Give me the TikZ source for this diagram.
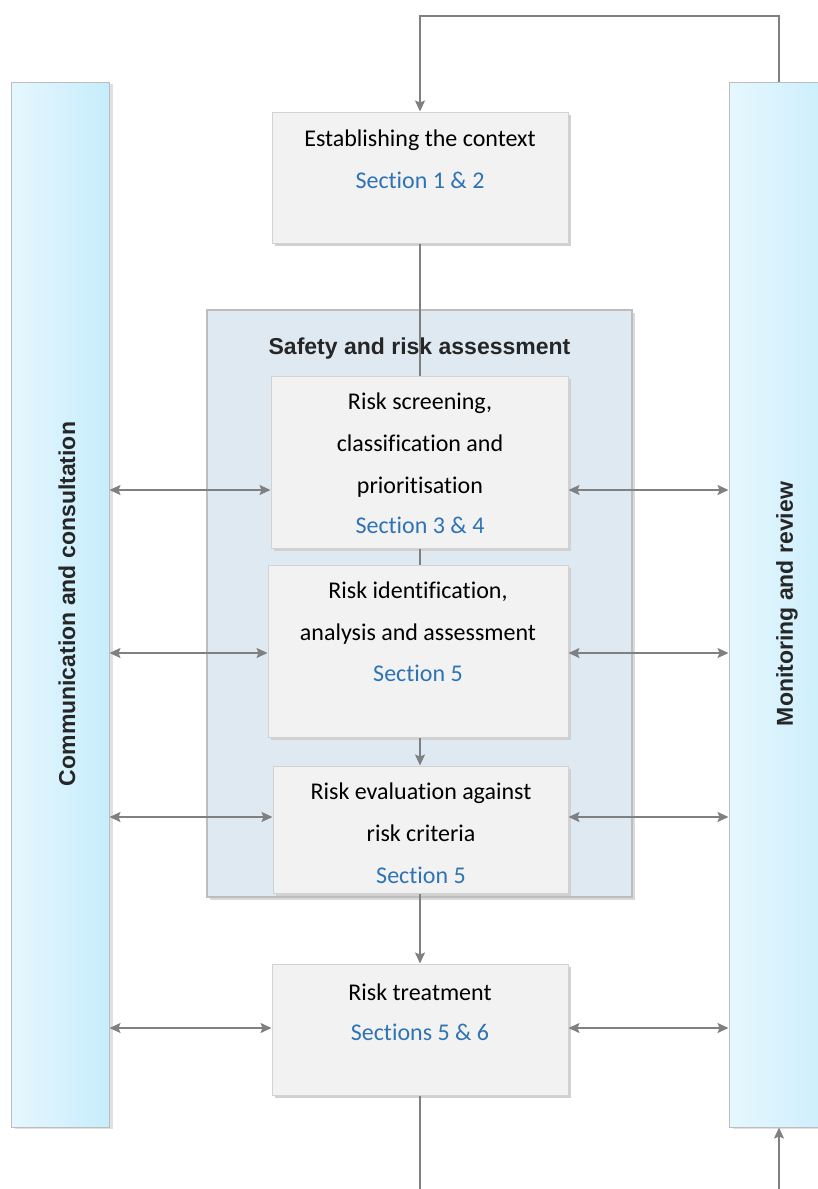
\documentclass[tikz,border=0pt]{standalone}
\usepackage{fontspec}
\setmainfont{Carlito}[Ligatures=NoCommon]
\newfontfamily\headfont{Liberation Sans}
\usetikzlibrary{arrows.meta,shadows,positioning}

\definecolor{boxfill}{HTML}{F2F2F2}
\definecolor{boxline}{HTML}{D2D2D2}
\definecolor{grpfill}{HTML}{DFE9F2}
\definecolor{grpline}{HTML}{BDBDBD}
\definecolor{barleft}{HTML}{E6F7FE}
\definecolor{barright}{HTML}{C6EDFC}
\definecolor{linegray}{HTML}{808080}
\definecolor{secblue}{HTML}{2E74B5}

\begin{document}
\begin{tikzpicture}[x=1pt,y=-1pt,
  box/.style={draw=boxline, fill=boxfill, line width=1pt, inner sep=0pt,
    drop shadow={shadow xshift=3pt, shadow yshift=-3pt, fill=black!18, opacity=1}},
  grp/.style={draw=grpline, fill=grpfill, line width=1.2pt, inner sep=0pt,
    drop shadow={shadow xshift=3pt, shadow yshift=-3pt, fill=black!15, opacity=1}},
  bar/.style={draw=grpline, left color=barleft, right color=barright, line width=1pt, inner sep=0pt,
    drop shadow={shadow xshift=4pt, shadow yshift=-2pt, fill=black!12, opacity=1}},
  txt/.style={anchor=base, align=center, font=\fontsize{24}{42}\selectfont, inner sep=0pt},
  sec/.style={txt, text=secblue},
  head/.style={font=\headfont\bfseries\fontsize{23}{27}\selectfont, inner sep=0pt, text=black!85},
  flow/.style={draw=linegray, line width=1.5pt},
  arr/.style={flow, -{Stealth[length=11pt, width=10pt, inset=2pt]}},
  dbl/.style={flow, {Stealth[length=11pt, width=10pt, inset=2pt]}-{Stealth[length=11pt, width=10pt, inset=2pt]}}]

  \useasboundingbox (0,0) rectangle (818,1189);

  % side bars
  \node[bar, minimum width=98pt, minimum height=1045pt] (com) at (60,604.5) {};
  \node[bar, minimum width=118pt, minimum height=1045pt] (mon) at (788,604.5) {};
  \node[head, rotate=90] (comtxt) at (67,604) {Communication and consultation};
  \node[head, rotate=90] (montxt) at (787,604) {Monitoring and review};

  % assessment group
  \node[grp, minimum width=425pt, minimum height=587pt] (grp) at (419.5,603.5) {};
  \node[head] (grptxt) at (419.5,349) {Safety and risk assessment};

  % boxes
  \node[box, minimum width=296pt, minimum height=131pt] (ctx) at (420,177.5) {};
  \node[box, minimum width=297pt, minimum height=172pt] (scr) at (419.5,462) {};
  \node[box, minimum width=300pt, minimum height=172pt] (idn) at (418,651) {};
  \node[box, minimum width=295pt, minimum height=127pt] (evl) at (420.5,829.5) {};
  \node[box, minimum width=296pt, minimum height=131pt] (trt) at (420,1029.5) {};

  % texts (base = last line)
  \node[txt] (ctxa) at (420,146) {Establishing the context};
  \node[sec] (ctxs) at (420,188) {Section 1 \& 2};

  \node[txt] (scra) at (420,493) {Risk screening,\\classification and\\prioritisation};
  \node[sec] (scrs) at (420,533) {Section 3 \& 4};

  \node[txt] (idna) at (418,640) {Risk identification,\\analysis and assessment};
  \node[sec] (idns) at (418,681) {Section 5};

  \node[txt] (evla) at (421,841) {Risk evaluation against\\risk criteria};
  \node[sec] (evls) at (421,883) {Section 5};

  \node[txt] (trta) at (420,1000) {Risk treatment};
  \node[sec] (trts) at (420,1040) {Sections 5 \& 6};

  % loop and main flow
  \coordinate (loopR) at (779,16);
  \coordinate (loopL) at (420,16);
  \coordinate (endL) at (420,1189);
  \coordinate (endR) at (779,1189);
  \draw[arr] (loopR |- mon.north) -- (loopR) -- (loopL) -- (ctx.north);
  \draw[flow] (ctx.south) -- (ctx.south |- scr.north);
  \draw[flow] (scr.south -| ctx.south) -- (idn.north -| ctx.south);
  \draw[arr] (idn.south -| ctx.south) -- (evl.north -| ctx.south);
  \draw[arr] (evl.south -| ctx.south) -- (trt.north);
  \draw[flow] (trt.south) -- (endL);
  \draw[arr] (endR) -- (endR |- mon.south);

  % two-way links to the bars
  \coordinate (r1) at (0,490);
  \coordinate (r2) at (0,653);
  \coordinate (r3) at (0,817);
  \coordinate (r4) at (0,1028);
  \draw[dbl] (com.east |- r1) -- (scr.west |- r1);
  \draw[dbl] (scr.east |- r1) -- (mon.west |- r1);
  \draw[dbl] (com.east |- r2) -- (idn.west |- r2);
  \draw[dbl] (idn.east |- r2) -- (mon.west |- r2);
  \draw[dbl] (com.east |- r3) -- (evl.west |- r3);
  \draw[dbl] (evl.east |- r3) -- (mon.west |- r3);
  \draw[dbl] (com.east |- r4) -- (trt.west |- r4);
  \draw[dbl] (trt.east |- r4) -- (mon.west |- r4);

\end{tikzpicture}
\end{document}
